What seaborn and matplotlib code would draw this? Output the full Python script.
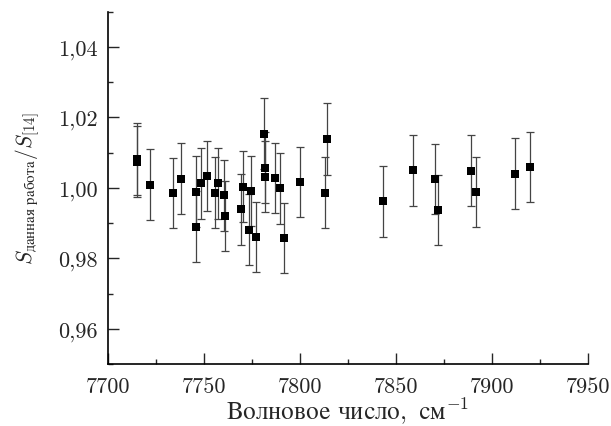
import numpy as np
import pandas as pd
import seaborn as sns
import matplotlib
matplotlib.use("Agg")
import matplotlib.pyplot as plt
from matplotlib.ticker import FuncFormatter, MultipleLocator

# Данные
wavenumber = [7715.1, 7715.1, 7722.2, 7734.0, 7738.5, 7745.8, 7745.8, 7748.7,
              7751.7, 7755.8, 7757.4, 7760.5, 7761.0, 7769.4, 7770.4, 7773.9,
              7774.8, 7777.4, 7781.5, 7781.8, 7781.8, 7787.0, 7790.0, 7792.1,
              7800.1, 7813.1, 7814.3, 7843.3, 7859.0, 7870.3, 7871.9, 7889.4,
              7892.0, 7911.9, 7919.7]
ratio = [1.0082, 1.0075, 1.0009, 0.9985, 1.0026, 0.9989, 0.9890, 1.0013,
         1.0034, 0.9987, 1.0013, 0.9979, 0.9921, 0.9940, 1.0004, 0.9882,
         0.9991, 0.9860, 1.0154, 1.0058, 1.0032, 1.0028, 0.9999, 0.9858,
         1.0017, 0.9987, 1.0139, 0.9962, 1.0050, 1.0026, 0.9937, 1.0049,
         0.9989, 1.0041, 1.0059]
err = [0.0101, 0.0100, 0.0101, 0.0100, 0.0101, 0.0101, 0.0100, 0.0100,
       0.0100, 0.0100, 0.0100, 0.0100, 0.0100, 0.0101, 0.0100, 0.0100,
       0.0100, 0.0100, 0.0101, 0.0100, 0.0100, 0.0100, 0.0100, 0.0100,
       0.0100, 0.0101, 0.0101, 0.0100, 0.0101, 0.0100, 0.0100, 0.0100,
       0.0100, 0.0100, 0.0100]

df = pd.DataFrame({"wn": wavenumber, "ratio": ratio, "err": err})

sns.set_style("ticks")
plt.rcParams['font.family'] = ['cmr10', 'DejaVu Serif']
plt.rcParams['mathtext.fontset'] = 'cm'
plt.rcParams['axes.unicode_minus'] = False

fig = plt.figure(figsize=(6.11, 4.27), dpi=100)
ax = fig.add_axes([0.176, 0.145, 0.786, 0.825])

ax.errorbar(df["wn"], df["ratio"], yerr=df["err"], fmt="none",
            ecolor="#444444", elinewidth=0.9, capsize=3, capthick=0.9, zorder=2)
sns.scatterplot(data=df, x="wn", y="ratio", marker="s", color="black",
                s=40, edgecolor="black", linewidth=0, ax=ax, zorder=3)

ax.set_xlim(7700, 7950)
ax.set_ylim(0.95, 1.05)
ax.xaxis.set_major_locator(MultipleLocator(50))
ax.xaxis.set_minor_locator(MultipleLocator(25))
ax.yaxis.set_major_locator(MultipleLocator(0.02))
ax.yaxis.set_minor_locator(MultipleLocator(0.01))
ax.yaxis.set_major_formatter(FuncFormatter(lambda v, p: f"{v:.2f}".replace(".", ",")))

ax.tick_params(which="major", direction="in", length=8, width=1, labelsize=16, pad=7)
ax.tick_params(which="minor", direction="in", length=3.5, width=1)
ax.tick_params(axis="x", pad=9)

sns.despine(ax=ax)
for s in ["left", "bottom"]:
    ax.spines[s].set_linewidth(1.2)
    ax.spines[s].set_color("black")

ax.set_xlabel(r"$\mathrm{Волновое\ число,\ см}^{-1}$", fontsize=18, labelpad=0)
ax.set_ylabel(r"$S_{\mathrm{данная\ работа}}/S_{[14]}$", fontsize=15.5, labelpad=12)

fig.savefig("out.png", dpi=100)
